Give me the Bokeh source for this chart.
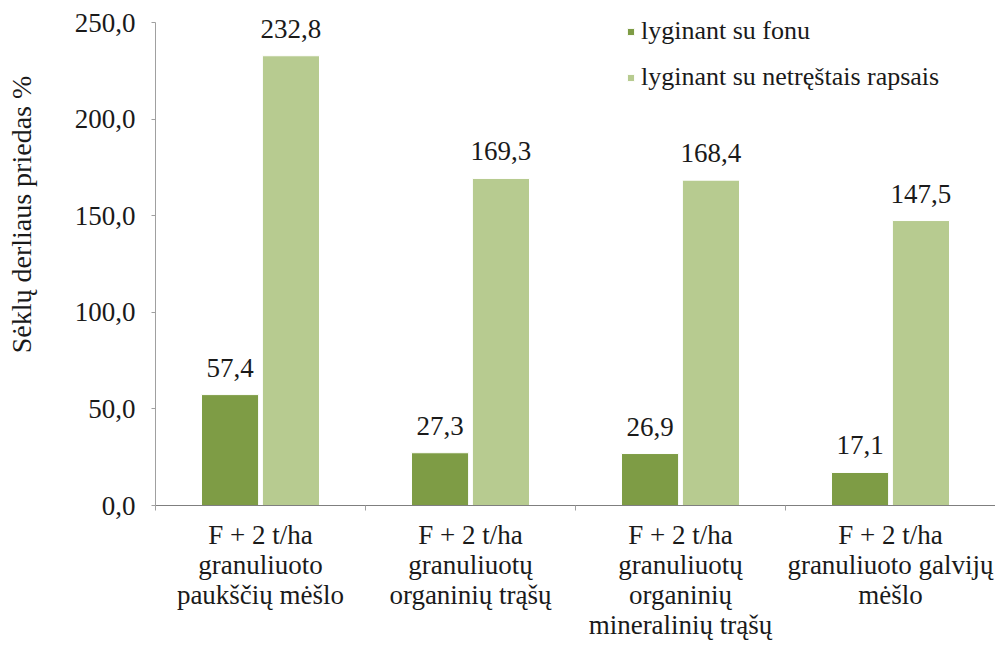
from bokeh.plotting import figure
from bokeh.models import (ColumnDataSource, LabelSet, Legend, LegendItem, LinearAxis,
                          FixedTicker, Range1d, CustomJSTickFormatter)
from bokeh.core.properties import value
from bokeh.embed import file_html
from bokeh.resources import INLINE

# --- data ---------------------------------------------------------------
categories = [
    "F + 2 t/ha\ngranuliuoto\npaukščių mėšlo",
    "F + 2 t/ha\ngranuliuotų\norganinių trąšų",
    "F + 2 t/ha\ngranuliuotų\norganinių\nmineralinių trąšų",
    "F + 2 t/ha\ngranuliuoto galvijų\nmėšlo",
]
series_names = ["lyginant su fonu", "lyginant su netręštais rapsais"]
vs_background = [57.4, 27.3, 26.9, 17.1]
vs_unfertilized = [232.8, 169.3, 168.4, 147.5]
y_ticks = [0, 50, 100, 150, 200, 250]
y_title = "Sėklų derliaus priedas %"

DARK = "#7E9C45"
LIGHT = "#B7CB90"
FONT = "'Liberation Serif', 'Times New Roman', serif"
TXT = "#1a1a1a"
FS = "27px"

n = len(categories)
centers = [i + 0.5 for i in range(n)]
bar_w = 0.272
off = 0.145

p = figure(width=995, height=646, output_backend="svg", toolbar_location=None,
           x_range=Range1d(0, n), y_range=Range1d(0, 261.4),
           min_border_left=155, min_border_right=0, min_border_top=0,
           min_border_bottom=141, outline_line_color=None)
p.xgrid.grid_line_color = None
p.ygrid.grid_line_color = None


def fmt(v):
    return f"{v:.1f}".replace(".", ",")


src1 = ColumnDataSource(dict(x=[c - off for c in centers], top=vs_background,
                             lab=[fmt(v) for v in vs_background]))
src2 = ColumnDataSource(dict(x=[c + off for c in centers], top=vs_unfertilized,
                             lab=[fmt(v) for v in vs_unfertilized]))

r1 = p.vbar(x="x", top="top", width=bar_w, bottom=0, source=src1,
            fill_color=DARK, line_color="white", line_width=1)
r2 = p.vbar(x="x", top="top", width=bar_w, bottom=0, source=src2,
            fill_color=LIGHT, line_color="white", line_width=1)

# value labels above bars
for s in (src1, src2):
    p.add_layout(LabelSet(x="x", y="top", text="lab", source=s, y_offset=18,
                          text_align="center", text_baseline="bottom",
                          text_font=value(FONT), text_font_size=value(FS),
                          text_color=TXT))

# y axis (line stops at 250)
p.yaxis.bounds = (0, 250)
p.yaxis.ticker = FixedTicker(ticks=y_ticks)
p.yaxis.formatter = CustomJSTickFormatter(code="return tick.toFixed(1).replace('.', ',');")
p.yaxis.major_label_text_font = FONT
p.yaxis.major_label_text_font_size = FS
p.yaxis.major_label_text_color = TXT
p.yaxis.major_tick_in = 0
p.yaxis.major_tick_out = 4
p.yaxis.minor_tick_line_color = None
p.yaxis.axis_line_color = "#a0a0a0"
p.yaxis.major_tick_line_color = "#a0a0a0"
p.yaxis.major_label_standoff = 16

# axis title on a bare outer axis; leading no-break spaces lift it
# toward the upper half of the scale
title_axis = LinearAxis(ticker=FixedTicker(ticks=[]),
                        axis_line_color=None, major_tick_line_color=None,
                        minor_tick_line_color=None, major_tick_out=0,
                        minor_tick_out=0, major_label_text_font_size="0px",
                        axis_label="\u00a0" * 11 + y_title, axis_label_standoff=35,
                        axis_label_text_font=FONT, axis_label_text_font_size="28px",
                        axis_label_text_font_style="normal",
                        axis_label_text_color=TXT)
p.add_layout(title_axis, "left")

# x axis: names under each group, separator ticks between groups
p.xaxis.ticker = FixedTicker(ticks=centers, minor_ticks=list(range(n + 1)))
p.xaxis.major_label_overrides = {c: lab for c, lab in zip(centers, categories)}
p.xaxis.major_label_text_font = FONT
p.xaxis.major_label_text_font_size = FS
p.xaxis.major_label_text_color = TXT
p.xaxis.major_label_text_line_height = 1.0
p.xaxis.major_label_standoff = 9
p.xaxis.major_tick_line_color = None
p.xaxis.major_tick_in = 0
p.xaxis.major_tick_out = 0
p.xaxis.minor_tick_in = 0
p.xaxis.minor_tick_out = 5
p.xaxis.minor_tick_line_color = "#a0a0a0"
p.xaxis.axis_line_color = "#7f7f7f"

legend = Legend(items=[LegendItem(label=series_names[0], renderers=[r1]),
                       LegendItem(label=series_names[1], renderers=[r2])],
                location=(471, 413), orientation="vertical",
                label_text_font=FONT, label_text_font_size="26px",
                label_text_color=TXT, glyph_width=9, glyph_height=9,
                label_standoff=6, spacing=16, padding=0, margin=0,
                border_line_color=None, background_fill_alpha=0)
p.add_layout(legend)

open("out.html", "w").write(file_html(p, INLINE))
